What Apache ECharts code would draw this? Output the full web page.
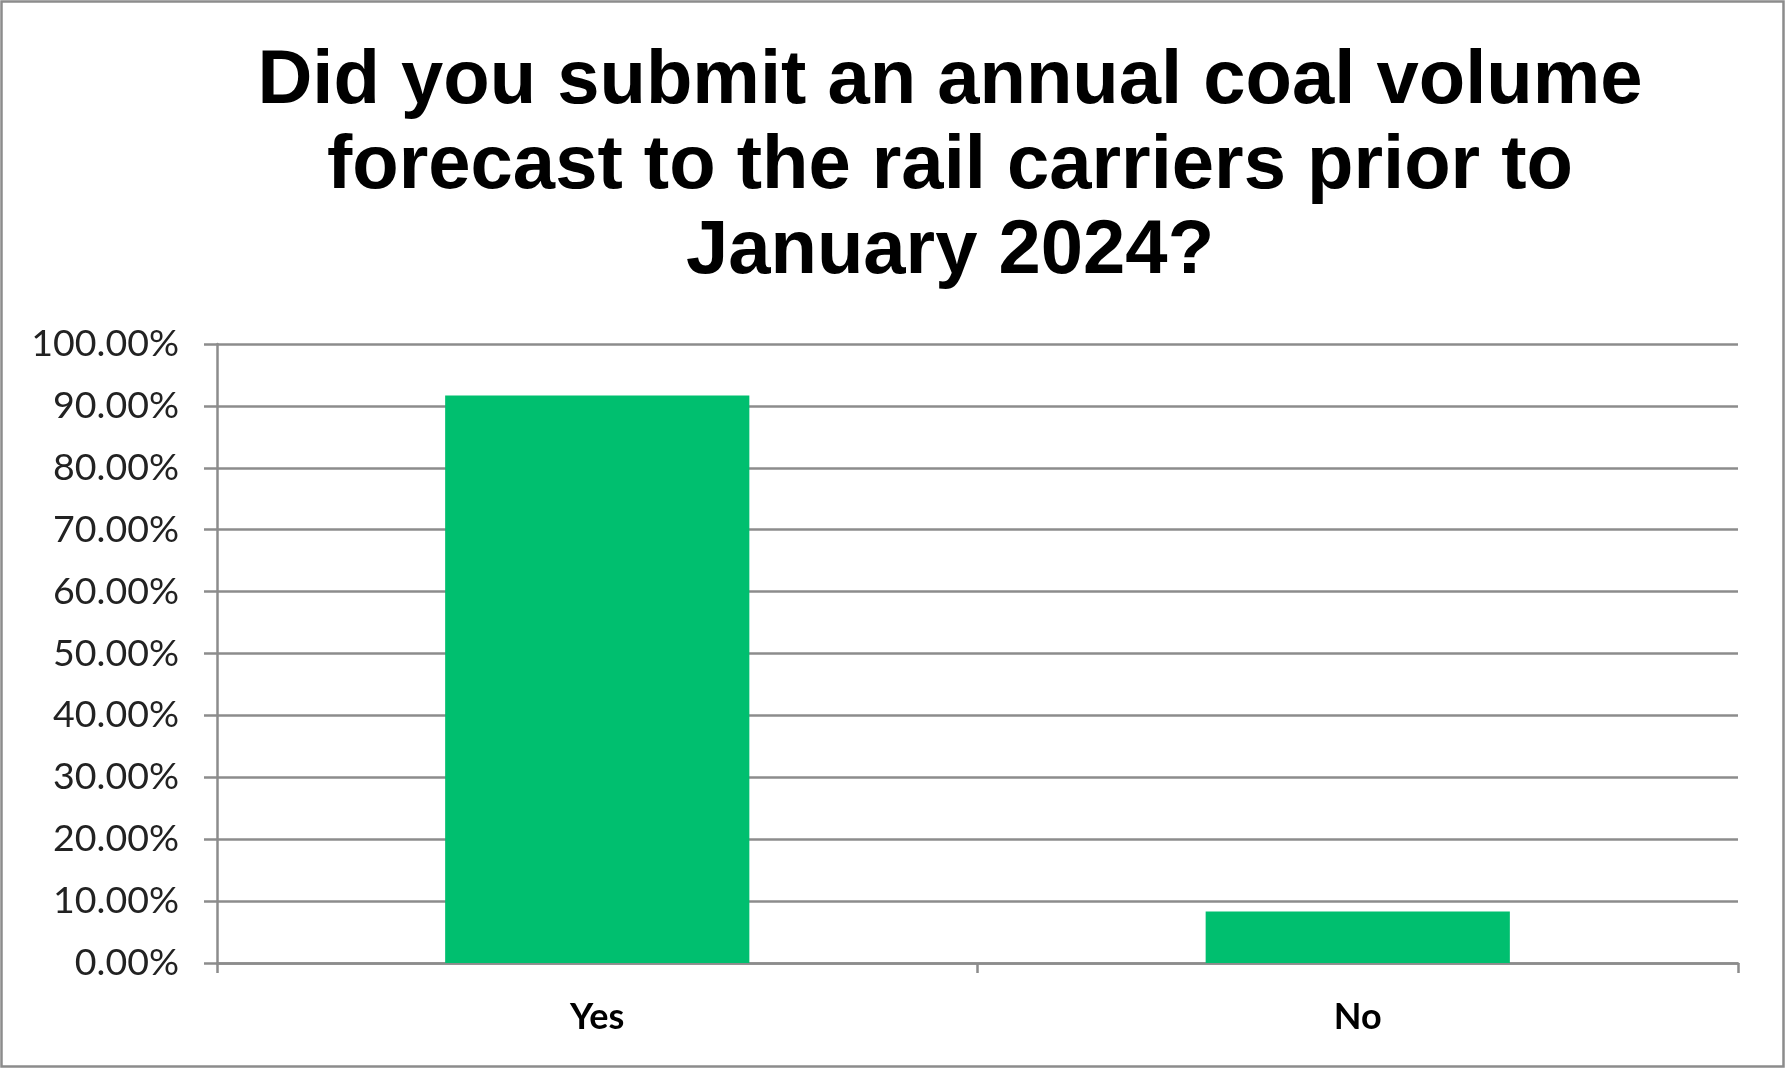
<!DOCTYPE html>
<html>
<head>
<meta charset="utf-8">
<title>Annual coal volume forecast</title>
<script src="https://cdn.jsdelivr.net/npm/echarts@6/dist/echarts.min.js"></script>
<style>
  html, body { margin: 0; padding: 0; background: #ffffff; }
  #chart { width: 1785px; height: 1068px; }
</style>
</head>
<body>
<div id="chart"></div>
<script>
// Survey answers and their share of responses (percent)
const categories = ['Yes', 'No'];
const shares = [91.67, 8.33];
// Value axis range and step (percent)
const axisMin = 0;
const axisMax = 100;
const axisStep = 10;

const titleText = 'Did you submit an annual coal volume\nforecast to the rail carriers prior to\nJanuary 2024?';

const gridGray = '#8c8c8c';
const barGreen = '#00bf6f';

const chart = echarts.init(document.getElementById('chart'), null, { renderer: 'canvas' });

chart.setOption({
  backgroundColor: '#ffffff',
  animation: false,
  graphic: [
    {
      type: 'rect',
      shape: { x: 1.5, y: 1.5, width: 1782, height: 1065 },
      style: { fill: 'none', stroke: gridGray, lineWidth: 2.5 },
      silent: true
    },
    {
      type: 'text',
      x: 950,
      y: 40,
      style: {
        text: titleText,
        align: 'center',
        verticalAlign: 'top',
        font: 'bold 76px "Liberation Sans", Arial, sans-serif',
        lineHeight: 85,
        fill: '#000000'
      },
      silent: true
    }
  ],
  grid: {
    left: 217,
    right: 47,
    top: 344,
    bottom: 105,
    containLabel: false
  },
  xAxis: {
    type: 'category',
    data: categories,
    axisLine: { show: true, lineStyle: { color: gridGray, width: 2.5 } },
    axisTick: { show: true, alignWithLabel: false, length: 10, lineStyle: { color: gridGray, width: 2.5 } },
    axisLabel: {
      margin: 36,
      color: '#000000',
      fontFamily: 'Lato, sans-serif',
      fontWeight: 'bold',
      fontSize: 36
    },
    splitLine: { show: false }
  },
  yAxis: {
    type: 'value',
    min: axisMin,
    max: axisMax,
    interval: axisStep,
    axisLine: { show: true, lineStyle: { color: gridGray, width: 2.5 } },
    axisTick: { show: true, length: 13, lineStyle: { color: gridGray, width: 2.5 } },
    axisLabel: {
      margin: 38,
      color: '#222222',
      fontFamily: 'Lato, sans-serif',
      fontSize: 37.5,
      formatter: function (v) { return v.toFixed(2) + '%'; }
    },
    splitLine: { show: true, lineStyle: { color: gridGray, width: 2.5 } }
  },
  series: [
    {
      type: 'bar',
      data: shares,
      barCategoryGap: '60%',
      itemStyle: { color: barGreen },
      label: { show: false }
    }
  ]
});
</script>
</body>
</html>
